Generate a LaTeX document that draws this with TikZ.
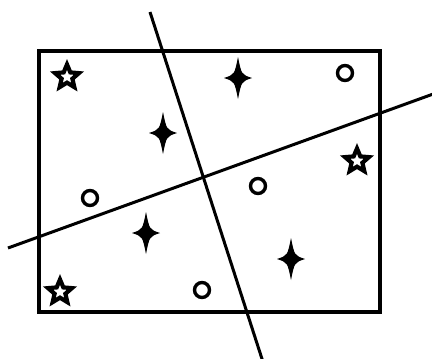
\documentclass[tikz,border=0pt]{standalone}
\usetikzlibrary{shapes.geometric}
\tikzset{
  box/.style={line width=4.5pt, line join=miter},
  cut/.style={line width=3pt},
  starmark/.style={star, star points=5, star point ratio=2.2, minimum size=25pt, inner sep=0pt, draw, line width=4.2pt, line join=miter, fill=white},
  ring/.style={circle, minimum size=15pt, inner sep=0pt, draw, line width=3.4pt},
  sparkle/.pic={\fill (0,-21) .. controls (3.5,-3.5) .. (14,0) .. controls (3.5,3.5) .. (0,21) .. controls (-3.5,3.5) .. (-14,0) .. controls (-3.5,-3.5) .. (0,-21) -- cycle;}
}
\begin{document}
\begin{tikzpicture}[x=1pt,y=-1pt]
\useasboundingbox (0,0) rectangle (432,359);
% frame
\coordinate (tl) at (39,51);
\coordinate (br) at (380,312);
\draw[box] (tl) rectangle (br);
% cutting lines
\coordinate (a1) at (150,12);
\coordinate (a2) at (263,362);
\coordinate (b1) at (8,248);
\coordinate (b2) at (436,93);
\draw[cut] (a1) -- (a2);
\draw[cut] (b1) -- (b2);
% five-pointed stars
\node[starmark] (s1) at (67,77) {};
\node[starmark] (s2) at (357,161) {};
\node[starmark] (s3) at (60,292) {};
% four-pointed sparkles
\pic at (238,78) {sparkle};
\pic at (163,133) {sparkle};
\pic at (146,233) {sparkle};
\pic at (291,259) {sparkle};
% rings
\node[ring] (c1) at (345,73) {};
\node[ring] (c2) at (258,186) {};
\node[ring] (c3) at (90,198) {};
\node[ring] (c4) at (202,290) {};
\end{tikzpicture}
\end{document}
